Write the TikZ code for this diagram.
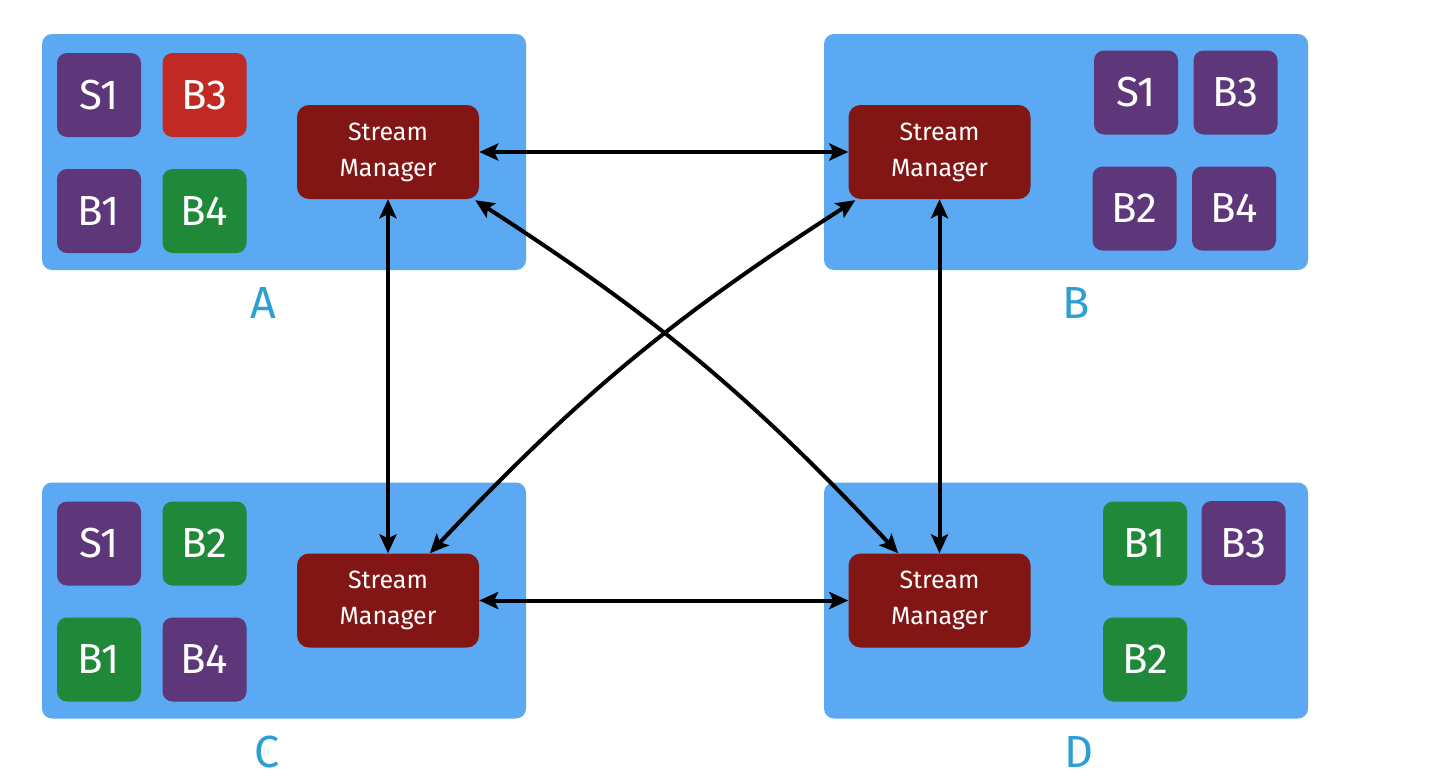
\documentclass[tikz,border=0pt]{standalone}
\usepackage{fontspec}
\setmainfont{Fira Sans}
\usetikzlibrary{arrows.meta}

\definecolor{hostblue}{HTML}{5AA9F2}
\definecolor{tilepurple}{HTML}{5D3779}
\definecolor{tilered}{HTML}{C12A24}
\definecolor{tilegreen}{HTML}{1F8839}
\definecolor{mgrred}{HTML}{811614}
\definecolor{labelblue}{HTML}{2D9FD3}

\begin{document}
\begin{tikzpicture}[x=1pt,y=-1pt,
  host/.style={fill=hostblue, rounded corners=10pt, minimum width=484pt,
    minimum height=236pt, inner sep=0pt},
  tile/.style={rounded corners=10pt, minimum width=84pt, minimum height=84pt,
    inner sep=0pt, text=white, font=\fontsize{42}{46}\selectfont},
  purpletile/.style={tile, fill=tilepurple},
  redtile/.style={tile, fill=tilered},
  greentile/.style={tile, fill=tilegreen},
  mgr/.style={fill=mgrred, rounded corners=12pt, minimum width=182pt,
    minimum height=94pt, inner sep=0pt, text=white, align=center,
    font=\fontsize{25}{36}\selectfont},
  hostlabel/.style={text=labelblue, inner sep=0pt, font=\fontsize{45}{50}\selectfont},
  link/.style={line width=4pt,
    {Stealth[length=19pt,width=17pt,inset=4pt]}-{Stealth[length=19pt,width=17pt,inset=4pt]}}
]
\useasboundingbox (0,0) rectangle (1432,782);

% host containers
\node[host] (hostA) at (284,152) {};
\node[host] (hostB) at (1066,152) {};
\node[host] (hostC) at (284,600.5) {};
\node[host] (hostD) at (1066,600.5) {};

% host names
\node[hostlabel] (labA) at (263,303) {A};
\node[hostlabel] (labB) at (1076,303) {B};
\node[hostlabel] (labC) at (267,752) {C};
\node[hostlabel] (labD) at (1079,752) {D};

% containers on host A
\node[purpletile] (aS1) at (99,95) {S1};
\node[redtile]    (aB3) at (204.5,95) {B3};
\node[purpletile] (aB1) at (99,211) {B1};
\node[greentile]  (aB4) at (204.5,211) {B4};

% containers on host B
\node[purpletile] (bS1) at (1136,92.5) {S1};
\node[purpletile] (bB3) at (1235.5,92.5) {B3};
\node[purpletile] (bB2) at (1134.5,208.5) {B2};
\node[purpletile] (bB4) at (1234,208.5) {B4};

% containers on host C
\node[purpletile] (cS1) at (99,543.5) {S1};
\node[greentile]  (cB2) at (204.5,543.5) {B2};
\node[greentile]  (cB1) at (99,659.5) {B1};
\node[purpletile] (cB4) at (204.5,659.5) {B4};

% containers on host D
\node[greentile]  (dB1) at (1145,543.5) {B1};
\node[purpletile] (dB3) at (1243.5,543) {B3};
\node[greentile]  (dB2) at (1145,659.5) {B2};

% stream managers
\node[mgr] (smA) at (388,152) {Stream\\Manager};
\node[mgr] (smB) at (939.5,152) {Stream\\Manager};
\node[mgr] (smC) at (388,600.5) {Stream\\Manager};
\node[mgr] (smD) at (939.5,600.5) {Stream\\Manager};

% links between stream managers
\draw[link] (smA.east) -- (smB.west);
\draw[link] (smC.east) -- (smD.west);
\draw[link] (smA.south) -- (smC.north);
\draw[link] (smB.south) -- (smD.north);
\draw[link] ([xshift=-4pt,yshift=-1pt]smA.south east) to[bend left=7] ([xshift=50pt]smD.north west);
\draw[link] ([xshift=133pt]smC.north west) to[bend left=7] ([xshift=7pt,yshift=-1pt]smB.south west);
\end{tikzpicture}
\end{document}
